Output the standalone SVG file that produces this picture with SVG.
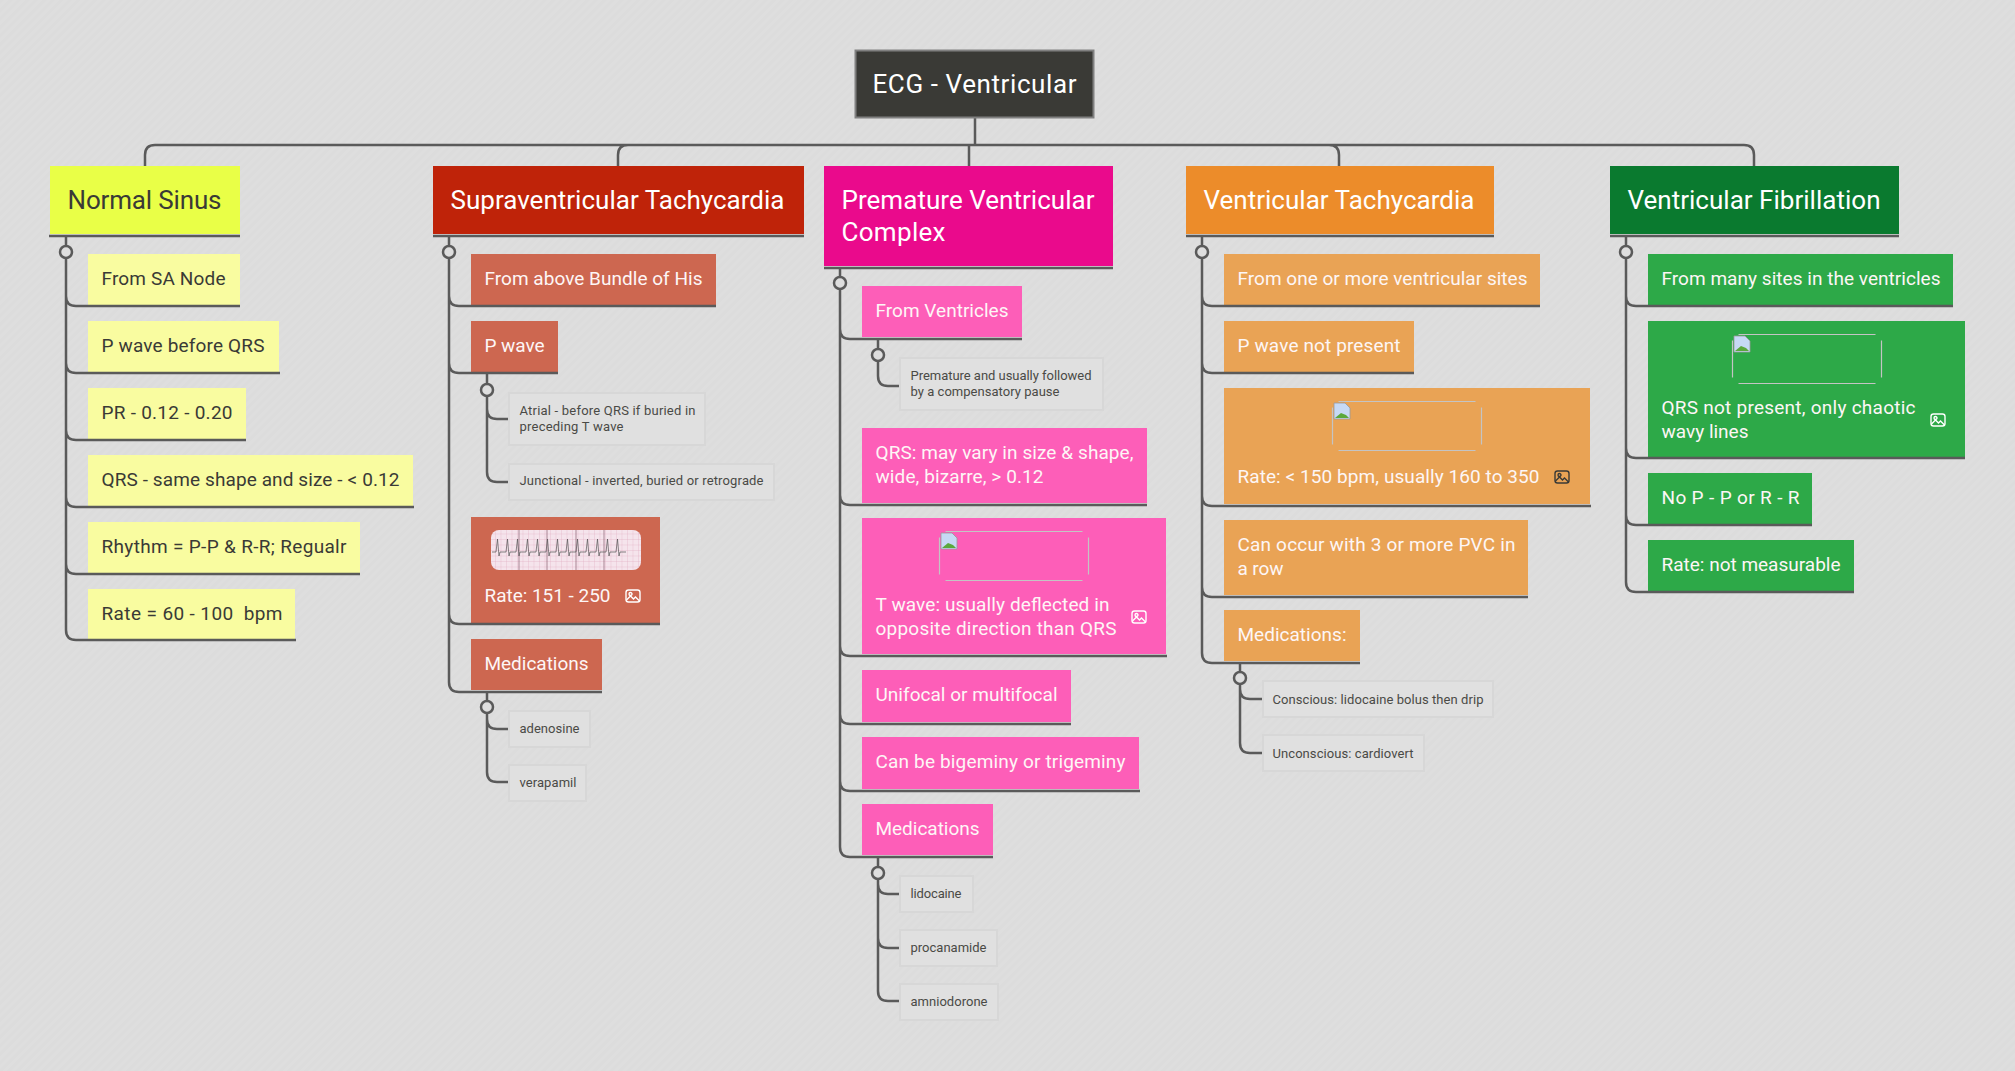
<svg xmlns="http://www.w3.org/2000/svg" width="2015" height="1071" viewBox="0 0 2015 1071">
<defs>
<style>
text{font-family:"Roboto","Liberation Sans",sans-serif;transform:translateX(-.5px)}
.c{fill:none;stroke:#5a5a5a;stroke-width:2.5}
.u{fill:none;stroke:#5a5a5a;stroke-width:2.5}
.o{fill:#dedede;stroke:#5a5a5a;stroke-width:2.5}
.h{font-size:26px}
.t{font-size:19px}
.s{font-size:13px;fill:#4a4a46}
.sb{fill:#e0e0e0;stroke:#d7d7d7;stroke-width:2}
.d{fill:#3a3a36}
.w{fill:#fdf6f6}
.ph{fill:none;stroke:#c4c4c4;stroke-width:1.2;stroke-dasharray:137 12 37 12;stroke-dashoffset:-6}
.ic{fill:none;stroke-width:1.4}
</style>
<pattern id="bg" width="6" height="6" patternUnits="userSpaceOnUse" patternTransform="rotate(45)"><rect width="6" height="6" fill="#dedede"/><rect width="3" height="6" fill="#dcdcdc"/></pattern>
<pattern id="grid" width="5.500" height="5.500" patternUnits="userSpaceOnUse"><rect width="5.500" height="5.500" fill="#f5e4ec"/><path d="M0 0H5.500M0 0V5.500" stroke="#dfa9bd" stroke-width=".6"/></pattern>
<g id="broken"><path d="M0 0h11l5 5v11H0z" fill="#c6d9f5" stroke="#999" stroke-width=".8"/><path d="M1 15l6-5 5 2 3 3z" fill="#5aa83c"/></g>
<g id="icon"><rect x="-7" y="-6" width="14" height="12" rx="2.5" class="ic" stroke="currentColor"/><circle cx="-2.500" cy="-2" r="1.500" class="ic" stroke="currentColor"/><path d="M-6.500 4l4-4 3 3 2-2 4 4" class="ic" stroke="currentColor"/></g>
</defs>
<rect width="2015" height="1071" fill="url(#bg)"/>
<g id="connectors">
<path class="c" d="M975 118V145M145 166V155Q145 145 155 145H1744Q1754 145 1754 155V166M618 166V155Q618 145 628 145M969 166V145M1329 145Q1339 145 1339 155V166"/>
<path class="c" d="M66 236V630Q66 640 76 640M66 296Q66 306 76 306M66 363Q66 373 76 373M66 430Q66 440 76 440M66 497Q66 507 76 507M66 564Q66 574 76 574"/>
<path class="c" d="M449 236V682Q449 692 459 692M449 296Q449 306 459 306M449 363Q449 373 459 373M449 614Q449 624 459 624"/>
<path class="c" d="M487 373V472Q487 482 497 482H509M487 409Q487 419 497 419H509M487 691V772Q487 782 497 782H509M487 719Q487 729 497 729H509"/>
<path class="c" d="M840 268V847Q840 857 850 857M840 329Q840 339 850 339M840 495Q840 505 850 505M840 646Q840 656 850 656M840 714Q840 724 850 724M840 781Q840 791 850 791"/>
<path class="c" d="M878 339V376Q878 386 888 386H900M878 857V991Q878 1001 888 1001H900M878 884Q878 894 888 894H900M878 938Q878 948 888 948H900"/>
<path class="c" d="M1202 236V653Q1202 663 1212 663M1202 296Q1202 306 1212 306M1202 363Q1202 373 1212 373M1202 496Q1202 506 1212 506M1202 587Q1202 597 1212 597"/>
<path class="c" d="M1240 662V743Q1240 753 1250 753H1263M1240 689Q1240 699 1250 699H1263"/>
<path class="c" d="M1626 236V582Q1626 592 1636 592M1626 296Q1626 306 1636 306M1626 448Q1626 458 1636 458M1626 515Q1626 525 1636 525"/>
<circle class="o" cx="66" cy="252" r="6"/><circle class="o" cx="449" cy="252" r="6"/><circle class="o" cx="487" cy="390" r="6"/><circle class="o" cx="487" cy="707" r="6"/><circle class="o" cx="840" cy="283" r="6"/><circle class="o" cx="878" cy="355" r="6"/><circle class="o" cx="878" cy="873" r="6"/><circle class="o" cx="1202" cy="252" r="6"/><circle class="o" cx="1240" cy="678" r="6"/><circle class="o" cx="1626" cy="252" r="6"/>
</g>
<g id="root"><rect x="855.500" y="50.500" width="238" height="67" fill="#3a3a36" stroke="#808080" stroke-width="2"/><text x="873" y="93" textLength="204" class="h" fill="#fff">ECG - Ventricular</text></g>

<g id="n1"><rect x="50" y="166" width="190" height="68" fill="#e9ff47"/><path class="u" d="M49 236H240"/><text x="68" y="209" textLength="154" class="h d">Normal Sinus</text></g>
<g id="n1a"><rect x="88" y="254" width="152" height="51" fill="#f9fca0"/><path class="u" d="M76 306H240"/><text x="102" y="285" textLength="124" class="t d">From SA Node</text></g>
<g id="n1b"><rect x="88" y="321" width="191" height="51" fill="#f9fca0"/><path class="u" d="M76 373H280"/><text x="102" y="352" textLength="163" class="t d">P wave before QRS</text></g>
<g id="n1c"><rect x="88" y="388" width="158" height="51" fill="#f9fca0"/><path class="u" d="M76 440H246"/><text x="102" y="419" textLength="131" class="t d">PR - 0.12 - 0.20</text></g>
<g id="n1d"><rect x="88" y="455" width="325" height="51" fill="#f9fca0"/><path class="u" d="M76 507H414"/><text x="102" y="486" textLength="298" class="t d">QRS - same shape and size - &lt; 0.12</text></g>
<g id="n1e"><rect x="88" y="522" width="272" height="51" fill="#f9fca0"/><path class="u" d="M76 574H360"/><text x="102" y="553" textLength="245" class="t d">Rhythm = P-P &amp; R-R; Regualr</text></g>
<g id="n1f"><rect x="88" y="589" width="207" height="51" fill="#f9fca0"/><path class="u" d="M76 640H296"/><text x="102" y="620" textLength="181" class="t d" xml:space="preserve">Rate = 60 - 100  bpm</text></g>

<g id="n2"><rect x="433" y="166" width="371" height="68" fill="#bf2309"/><path class="u" d="M433 236H804"/><text x="451" y="209" textLength="334" class="h" fill="#fff">Supraventricular Tachycardia</text></g>
<g id="n2a"><rect x="471" y="254" width="245" height="51" fill="#cd6750"/><path class="u" d="M459 306H716"/><text x="485" y="285" textLength="218" class="t w">From above Bundle of His</text></g>
<g id="n2b"><rect x="471" y="321" width="87" height="51" fill="#cd6750"/><path class="u" d="M459 373H558"/><text x="485" y="352" textLength="60" class="t w">P wave</text></g>
<g id="n2b1"><rect class="sb" x="509" y="393" width="196" height="52"/><text x="520" y="415" textLength="176" class="s">Atrial - before QRS if buried in</text><text x="520" y="431" textLength="104" class="s">preceding T wave</text></g>
<g id="n2b2"><rect class="sb" x="509" y="464" width="265" height="36"/><text x="520" y="485" textLength="244" class="s">Junctional - inverted, buried or retrograde</text></g>
<g id="n2c"><rect x="471" y="517" width="189" height="106" fill="#cd6750"/><path class="u" d="M459 624H660"/><rect x="491" y="530" width="150" height="40" rx="8" fill="url(#grid)"/><path d="M519 530V570M547 530V570M576 530V570M604 530V570" stroke="#8a6070" stroke-width=".7"/><path d="M492 552h4l1.500-13 1.500 17 1-4h6l1.500-13 1.500 17 1-4h6l1.500-13 1.500 17 1-4h6l1.500-13 1.500 17 1-4h6l1.500-13 1.500 17 1-4h6l1.500-13 1.500 17 1-4h6l1.500-13 1.500 17 1-4h6l1.500-13 1.500 17 1-4h6l1.500-13 1.500 17 1-4h6l1.500-13 1.500 17 1-4h6l1.500-13 1.500 17 1-4h6l1.500-13 1.500 17 1-4h6l1.500-13 1.500 17 1-4h6" fill="none" stroke="#555" stroke-width=".7"/><text x="485" y="602" textLength="126" class="t w">Rate: 151 - 250</text><use href="#icon" x="633" y="596" color="#fff"/></g>
<g id="n2d"><rect x="471" y="639" width="131" height="51" fill="#cd6750"/><path class="u" d="M459 692H602"/><text x="485" y="670" textLength="104" class="t w">Medications</text></g>
<g id="n2d1"><rect class="sb" x="509" y="711" width="81" height="36"/><text x="520" y="733" textLength="60" class="s">adenosine</text></g>
<g id="n2d2"><rect class="sb" x="509" y="765" width="77" height="36"/><text x="520" y="787" textLength="57" class="s">verapamil</text></g>

<g id="n3"><rect x="824" y="166" width="289" height="100" fill="#ea0a8c"/><path class="u" d="M824 268H1113"/><text x="842" y="209" textLength="253" class="h" fill="#fff">Premature Ventricular</text><text x="842" y="241" textLength="104" class="h" fill="#fff">Complex</text></g>
<g id="n3a"><rect x="862" y="286" width="160" height="51" fill="#fd5eb8"/><path class="u" d="M850 339H1022"/><text x="876" y="317" textLength="133" class="t w">From Ventricles</text></g>
<g id="n3a1"><rect class="sb" x="900" y="358" width="203" height="52"/><text x="911" y="380" textLength="181" class="s">Premature and usually followed</text><text x="911" y="396" textLength="149" class="s">by a compensatory pause</text></g>
<g id="n3b"><rect x="862" y="428" width="285" height="75" fill="#fd5eb8"/><path class="u" d="M850 505H1147"/><text x="876" y="459" textLength="258" class="t w">QRS: may vary in size &amp; shape,</text><text x="876" y="483" textLength="168" class="t w">wide, bizarre, &gt; 0.12</text></g>
<g id="n3c"><rect x="862" y="518" width="304" height="136" fill="#fd5eb8"/><path class="u" d="M850 656H1167"/><rect class="ph" x="939.500" y="531.500" width="149" height="49"/><use href="#broken" x="941" y="533"/><text x="876" y="611" textLength="234" class="t w">T wave: usually deflected in</text><text x="876" y="635" textLength="241" class="t w">opposite direction than QRS</text><use href="#icon" x="1139" y="617" color="#fff"/></g>
<g id="n3d"><rect x="862" y="670" width="209" height="52" fill="#fd5eb8"/><path class="u" d="M850 724H1071"/><text x="876" y="701" textLength="182" class="t w">Unifocal or multifocal</text></g>
<g id="n3e"><rect x="862" y="737" width="277" height="52" fill="#fd5eb8"/><path class="u" d="M850 791H1140"/><text x="876" y="768" textLength="250" class="t w">Can be bigeminy or trigeminy</text></g>
<g id="n3f"><rect x="862" y="804" width="131" height="51" fill="#fd5eb8"/><path class="u" d="M850 857H993"/><text x="876" y="835" textLength="104" class="t w">Medications</text></g>
<g id="n3f1"><rect class="sb" x="900" y="876" width="73" height="36"/><text x="911" y="898" textLength="51" class="s">lidocaine</text></g>
<g id="n3f2"><rect class="sb" x="900" y="930" width="97" height="36"/><text x="911" y="952" textLength="76" class="s">procanamide</text></g>
<g id="n3f3"><rect class="sb" x="900" y="984" width="98" height="36"/><text x="911" y="1006" textLength="77" class="s">amniodorone</text></g>

<g id="n4"><rect x="1186" y="166" width="308" height="68" fill="#ec8c2a"/><path class="u" d="M1186 236H1494"/><text x="1204" y="209" textLength="271" class="h" fill="#fff">Ventricular Tachycardia</text></g>
<g id="n4a"><rect x="1224" y="254" width="316" height="51" fill="#e9a355"/><path class="u" d="M1212 306H1540"/><text x="1238" y="285" textLength="290" class="t w">From one or more ventricular sites</text></g>
<g id="n4b"><rect x="1224" y="321" width="190" height="51" fill="#e9a355"/><path class="u" d="M1212 373H1414"/><text x="1238" y="352" textLength="163" class="t w">P wave not present</text></g>
<g id="n4c"><rect x="1224" y="388" width="366" height="116" fill="#e9a355"/><path class="u" d="M1212 506H1591"/><rect class="ph" x="1332.500" y="401.500" width="149" height="49"/><use href="#broken" x="1334" y="403"/><text x="1238" y="483" textLength="302" class="t w">Rate: &lt; 150 bpm, usually 160 to 350</text><use href="#icon" x="1562" y="477" color="#3a3a36"/></g>
<g id="n4d"><rect x="1224" y="520" width="304" height="75" fill="#e9a355"/><path class="u" d="M1212 597H1528"/><text x="1238" y="551" textLength="278" class="t w">Can occur with 3 or more PVC in</text><text x="1238" y="575" textLength="46" class="t w">a row</text></g>
<g id="n4e"><rect x="1224" y="610" width="136" height="51" fill="#e9a355"/><path class="u" d="M1212 663H1360"/><text x="1238" y="641" textLength="109" class="t w">Medications:</text></g>
<g id="n4e1"><rect class="sb" x="1263" y="681" width="230" height="36"/><text x="1273" y="704" textLength="211" class="s">Conscious: lidocaine bolus then drip</text></g>
<g id="n4e2"><rect class="sb" x="1263" y="735" width="161" height="36"/><text x="1273" y="758" textLength="141" class="s">Unconscious: cardiovert</text></g>

<g id="n5"><rect x="1610" y="166" width="289" height="68" fill="#0a7a2f"/><path class="u" d="M1610 236H1899"/><text x="1628" y="209" textLength="253" class="h" fill="#fff">Ventricular Fibrillation</text></g>
<g id="n5a"><rect x="1648" y="254" width="305" height="51" fill="#2da948"/><path class="u" d="M1636 306H1953"/><text x="1662" y="285" textLength="279" class="t w">From many sites in the ventricles</text></g>
<g id="n5b"><rect x="1648" y="321" width="317" height="136" fill="#2da948"/><path class="u" d="M1636 458H1965"/><rect class="ph" x="1732.500" y="334.500" width="149" height="49"/><use href="#broken" x="1734" y="336"/><text x="1662" y="414" textLength="254" class="t w">QRS not present, only chaotic</text><text x="1662" y="438" textLength="87" class="t w">wavy lines</text><use href="#icon" x="1938" y="420" color="#fff"/></g>
<g id="n5c"><rect x="1648" y="473" width="164" height="51" fill="#2da948"/><path class="u" d="M1636 525H1812"/><text x="1662" y="504" textLength="138" class="t w">No P - P or R - R</text></g>
<g id="n5d"><rect x="1648" y="540" width="206" height="51" fill="#2da948"/><path class="u" d="M1636 592H1854"/><text x="1662" y="571" textLength="179" class="t w">Rate: not measurable</text></g>
</svg>
